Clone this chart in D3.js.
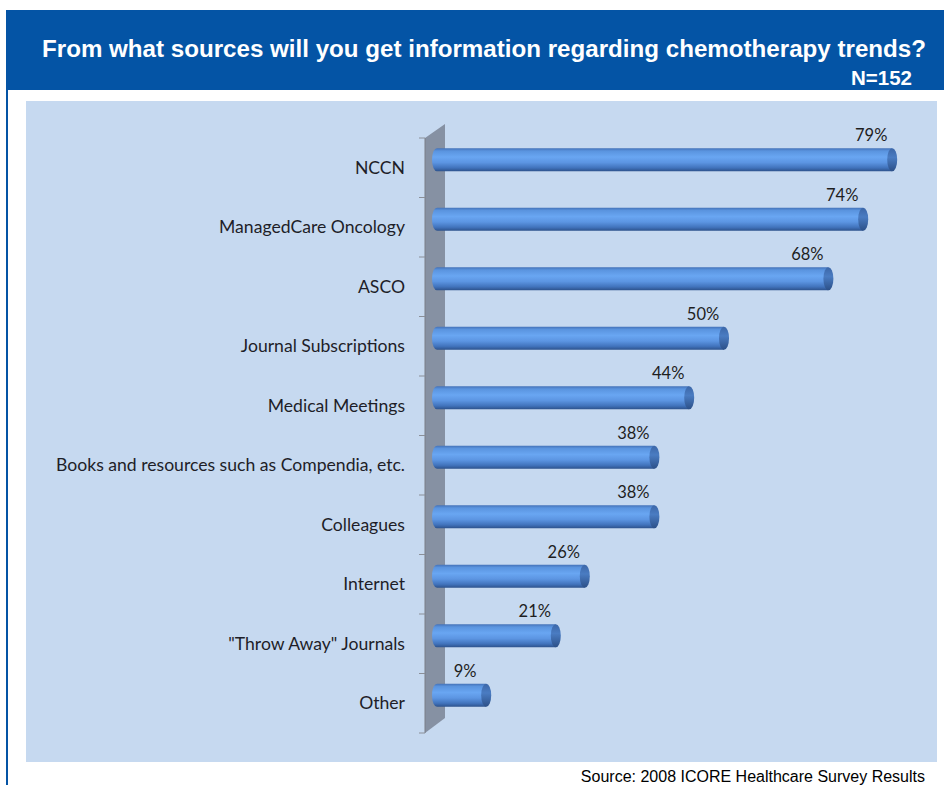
<!DOCTYPE html>
<html><head><meta charset="utf-8">
<script src="https://cdn.jsdelivr.net/npm/d3@7/dist/d3.min.js"></script>
<style>html,body{margin:0;padding:0;background:#fff;}svg{display:block;}</style>
</head><body>
<svg id="c" width="944" height="785"></svg>
<script>
const categories = ["NCCN","ManagedCare Oncology","ASCO","Journal Subscriptions","Medical Meetings","Books and resources such as Compendia, etc.","Colleagues","Internet","\"Throw Away\" Journals","Other"];
const values = [79,74,68,50,44,38,38,26,21,9];
const valueLabels = ["79%","74%","68%","50%","44%","38%","38%","26%","21%","9%"];
const titleText = "From what sources will you get information regarding chemotherapy trends?";
const nText = "N=152";
const sourceText = "Source: 2008 ICORE Healthcare Survey Results";

const svg = d3.select("#c");
const defs = svg.append("defs");
const g1 = defs.append("linearGradient").attr("id","barG").attr("x1",0).attr("y1",0).attr("x2",0).attr("y2",1);
[[0,"#4472b8"],[0.12,"#5a94df"],[0.38,"#69a6f2"],[0.62,"#5c95e2"],[0.85,"#4173bc"],[1,"#2d528c"]].forEach(s=>g1.append("stop").attr("offset",s[0]).attr("stop-color",s[1]));
const g2 = defs.append("linearGradient").attr("id","capG").attr("x1",0).attr("y1",0).attr("x2",0).attr("y2",1);
[[0,"#3c67a8"],[0.4,"#4a7cc2"],[1,"#2c5088"]].forEach(s=>g2.append("stop").attr("offset",s[0]).attr("stop-color",s[1]));

// header
svg.append("rect").attr("x",6).attr("y",10).attr("width",938).attr("height",80).attr("fill","#0454a5");
svg.append("rect").attr("x",6).attr("y",90).attr("width",2).attr("height",695).attr("fill","#0454a5");
svg.append("text").attr("x",484).attr("y",57).attr("text-anchor","middle")
  .attr("font-family","Liberation Sans, Arial, sans-serif").attr("font-weight","bold").attr("font-size",23.5)
  .attr("textLength",884).attr("lengthAdjust","spacingAndGlyphs")
  .attr("fill","#fff").text(titleText);
svg.append("text").attr("x",912).attr("y",85).attr("text-anchor","end")
  .attr("font-family","Liberation Sans, Arial, sans-serif").attr("font-weight","bold").attr("font-size",20.5)
  .attr("fill","#fff").text(nText);

// plot area
svg.append("rect").attr("x",26).attr("y",101).attr("width",911).attr("height",661).attr("fill","#c6d9f0");

const x = d3.scaleLinear().domain([0,80]).range([434,898]);
const y = d3.scaleBand().domain(categories).range([138,733]).padding(0);
const depthX = 20, depthY = 14;
const wallL = 425;

// wall
svg.append("path").attr("d",`M${wallL},${y.range()[0]} L${wallL+depthX},${y.range()[0]-depthY} L${wallL+depthX},${y.range()[1]-depthY-1} L${wallL},${y.range()[1]} Z`)
  .attr("fill","#8691a3");
svg.append("line").attr("x1",wallL).attr("x2",wallL).attr("y1",y.range()[0]).attr("y2",y.range()[1]).attr("stroke","#7a7f88").attr("stroke-width",1);
const tickYs = categories.map(c=>y(c)).concat([y.range()[1]]);
svg.selectAll(".tk").data(tickYs).join("line").attr("x1",wallL-6).attr("x2",wallL).attr("y1",d=>d).attr("y2",d=>d)
  .attr("stroke","#8a8f98").attr("stroke-width",1);

// bars
const bh = 23, rx = 5, off = -8;
const bars = svg.selectAll(".bar").data(categories).join("g");
bars.append("path").attr("d",(c,i)=>{
  const cy = y(c)+y.bandwidth()/2+off, t = cy-bh/2, b = cy+bh/2;
  const xs = x(0)-2, xe = x(values[i]);
  return `M${xe},${t} L${xs+rx},${t} A${rx},${bh/2} 0 0 0 ${xs+rx},${b} L${xe},${b} Z`;
}).attr("fill","url(#barG)");
bars.append("ellipse").attr("cx",(c,i)=>x(values[i])).attr("cy",c=>y(c)+y.bandwidth()/2+off)
  .attr("rx",rx).attr("ry",bh/2).attr("fill","url(#capG)");

// value labels
svg.selectAll(".vl").data(categories).join("text")
  .attr("x",(c,i)=>x(values[i])-21).attr("y",c=>y(c)+y.bandwidth()/2+off-bh/2-7)
  .attr("text-anchor","middle").attr("font-family","Lato, sans-serif").attr("font-size",16.5).attr("fill","#1e1e1e")
  .text((c,i)=>valueLabels[i]);

// category labels
svg.selectAll(".cl").data(categories).join("text")
  .attr("x",405).attr("y",c=>y(c)+y.bandwidth()/2+6)
  .attr("text-anchor","end").attr("font-family","Lato, sans-serif").attr("font-size",17.6).attr("fill","#1e1e28")
  .text(c=>c);

// source
svg.append("text").attr("x",925).attr("y",782).attr("text-anchor","end")
  .attr("font-family","Liberation Sans, Arial, sans-serif").attr("font-size",16).attr("fill","#000").text(sourceText);
</script>
</body></html>
